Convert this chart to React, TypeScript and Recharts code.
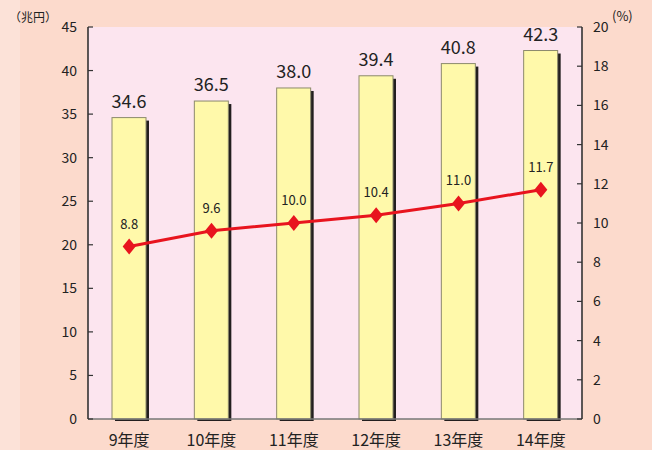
import React from 'react';
import { ComposedChart, Bar, Line, XAxis, YAxis, CartesianGrid, LabelList } from 'recharts';

const categories = ['9年度', '10年度', '11年度', '12年度', '13年度', '14年度'];
const amounts = [34.6, 36.5, 38.0, 39.4, 40.8, 42.3];
const rates = [8.8, 9.6, 10.0, 10.4, 11.0, 11.7];
const leftTicks = [0, 5, 10, 15, 20, 25, 30, 35, 40, 45];
const rightTicks = [0, 2, 4, 6, 8, 10, 12, 14, 16, 18, 20];
const edgeTicks = [1, 2, 3, 4, 5];

const data = categories.map((name, i) => ({ name, amount: amounts[i], rate: rates[i] }));

const FONT = "'Noto Sans CJK JP', 'Noto Sans', sans-serif";
const TEXT = '#222';

const BarShape = (props: any) => {
  const { x, y, width, height } = props;
  return (
    <g>
      <rect x={x + 3} y={y + 3} width={width} height={height - 1} fill="#231f1f" />
      <rect x={x} y={y} width={width} height={height} fill="#FFF9AA" stroke="#8c8a6c" strokeWidth={1} />
    </g>
  );
};

const Diamond = (props: any) => {
  const { cx, cy } = props;
  if (cx == null || cy == null) return null;
  return <polygon points={`${cx},${cy - 8} ${cx + 6.5},${cy} ${cx},${cy + 8} ${cx - 6.5},${cy}`} fill="#E8141E" />;
};

const LeftTick = (props: any) => {
  const { x, y, payload } = props;
  return (
    <g>
      <line x1={x} y1={y} x2={x + 5} y2={y} stroke="#333" strokeWidth={1.2} />
      <text x={x - 11} y={y + 5} textAnchor="end" fontSize={14} fontFamily={FONT} fill={TEXT}>{payload.value}</text>
    </g>
  );
};

const RightTick = (props: any) => {
  const { x, y, payload } = props;
  return (
    <g>
      <line x1={x} y1={y} x2={x - 5} y2={y} stroke="#333" strokeWidth={1.2} />
      <text x={x + 11} y={y + 5} textAnchor="start" fontSize={14} fontFamily={FONT} fill={TEXT}>{payload.value}</text>
    </g>
  );
};

const CatTick = (props: any) => {
  const { x, y, payload } = props;
  return (
    <text x={x} y={y + 27} textAnchor="middle" fontSize={16} fontFamily={FONT} fill={TEXT}>{payload.value}</text>
  );
};

const EdgeTick = (props: any) => {
  const { x, y } = props;
  return <line x1={x} y1={y} x2={x} y2={y - 6} stroke="#444" strokeWidth={1.2} />;
};

export default function App() {
  return (
    <div
      style={{
        position: 'fixed',
        left: 0,
        top: 0,
        width: 652,
        height: 450,
        background: 'linear-gradient(to right, #FCE2D8 0px, #FCE2D8 20px, #FCDACC 20px, #FCDACC 100%)',
      }}
    >
      <div style={{ position: 'absolute', left: 9, top: 10, fontSize: 12, lineHeight: '14px', fontFamily: FONT, color: TEXT }}>（兆円）</div>
      <div style={{ position: 'absolute', left: 612, top: 8, fontSize: 13, lineHeight: '16px', fontFamily: FONT, color: TEXT }}>(%)</div>
      <ComposedChart width={652} height={450} data={data} margin={{ top: 27, right: 0, bottom: 0, left: 0 }}>
        <CartesianGrid fill="#FCE5EF" horizontal={false} vertical={false} xAxisId="cat" yAxisId="left" />
        <XAxis
          xAxisId="cat"
          dataKey="name"
          height={31}
          axisLine={{ stroke: '#777', strokeWidth: 1.5 }}
          tickLine={false}
          tickSize={0}
          tickMargin={0}
          tick={<CatTick />}
          interval={0}
        />
        <XAxis
          xAxisId="edge"
          type="number"
          domain={[0, 6]}
          ticks={edgeTicks}
          height={0}
          axisLine={false}
          tickLine={false}
          tickSize={0}
          tickMargin={0}
          tick={<EdgeTick />}
        />
        <YAxis
          yAxisId="left"
          orientation="left"
          width={88}
          domain={[0, 45]}
          ticks={leftTicks}
          interval={0}
          axisLine={{ stroke: '#333', strokeWidth: 1.6 }}
          tickLine={false}
          tickSize={0}
          tickMargin={0}
          tick={<LeftTick />}
        />
        <YAxis
          yAxisId="right"
          orientation="right"
          width={70}
          domain={[0, 20]}
          ticks={rightTicks}
          interval={0}
          axisLine={{ stroke: '#333', strokeWidth: 1.6 }}
          tickLine={false}
          tickSize={0}
          tickMargin={0}
          tick={<RightTick />}
        />
        <Bar xAxisId="cat" yAxisId="left" dataKey="amount" barSize={34} shape={<BarShape />} isAnimationActive={false}>
          <LabelList
            dataKey="amount"
            position="top"
            offset={10}
            formatter={(v: any) => Number(v).toFixed(1)}
            style={{ fontSize: 18, fontFamily: FONT, fill: TEXT }}
          />
        </Bar>
        <Line
          xAxisId="cat"
          yAxisId="right"
          dataKey="rate"
          stroke="#E8141E"
          strokeWidth={3}
          dot={<Diamond />}
          activeDot={false}
          isAnimationActive={false}
        >
          <LabelList
            dataKey="rate"
            position="top"
            offset={18}
            formatter={(v: any) => Number(v).toFixed(1)}
            style={{ fontSize: 13, fontFamily: FONT, fill: TEXT }}
          />
        </Line>
      </ComposedChart>
    </div>
  );
}
